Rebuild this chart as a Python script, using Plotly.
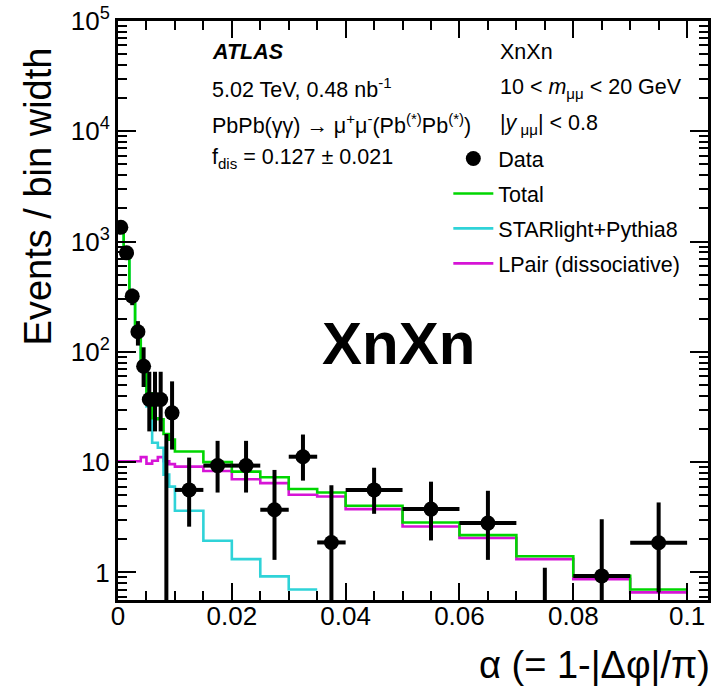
import plotly.graph_objects as go

# ---------------- data ----------------
bin_edges = [0.000, 0.001, 0.002, 0.003, 0.004, 0.005, 0.006, 0.007, 0.008, 0.009, 0.010,
             0.015, 0.020, 0.025, 0.030, 0.035, 0.040,
             0.050, 0.060, 0.070, 0.080, 0.090, 0.100]

data_vals = [1350, 790, 320, 152, 74, 37, 37, 37, 0, 28,
             5.6, 9.3, 9.3, 3.7, 11.2, 1.87,
             5.6, 3.75, 2.8, 0, 0.93, 1.86]
data_err_up = [110, 85, 55, 38, 36, 29, 29, 29, 18, 26,
               5.4, 6.3, 6.3, 4.8, 6.6, 4.3,
               3.3, 2.9, 2.7, 1.1, 2.1, 2.45]
data_err_dn = [110, 85, 55, 38, 26, 18, 18, 18, 0, 15,
               3.0, 4.0, 4.0, 2.4, 4.4, 1.55,
               2.2, 1.8, 1.5, 0, 0.77, 1.2]

total_vals = [1450, 720, 315, 150, 78, 42, 25, 24.5, 18, 16,
              12.5, 10.0, 8.2, 7.3, 5.7, 5.3,
              4.02, 2.84, 2.18, 1.40, 0.93, 0.70]
starlight_vals = [1440, 710, 305, 140, 67, 32, 15, 13.5, 7.7, 6.0,
                  3.62, 1.94, 1.32, 0.92, 0.70, 0.42,
                  0.27, 0.23, 0.13, 0.08, 0.06, 0.04]
lpair_vals = [10.2, 10.2, 10.2, 10.2, 11.1, 9.7, 10.3, 11.1, 10.2, 9.6,
              9.1, 8.3, 7.0, 6.45, 5.06, 4.88,
              3.75, 2.61, 2.05, 1.32, 0.87, 0.66]

y_tick_vals = [1, 10, 100, 1000, 10000, 100000]
y_tick_text = ["1", "10", "10<sup>2</sup>", "10<sup>3</sup>", "10<sup>4</sup>", "10<sup>5</sup>"]
x_tick_vals = [0, 0.02, 0.04, 0.06, 0.08, 0.1]
x_tick_text = ["0", "0.02", "0.04", "0.06", "0.08", "0.1"]

# ---------------- layout constants ----------------
W, H = 711, 691
L, T, B = 118, 21, 91
R = 0
Y_MIN_LOG, Y_MAX_LOG = -0.25, 5.0
X_MAX = (W - L) / 5720.0
y_floor = 10 ** Y_MIN_LOG

GREEN = "#00d600"
CYAN = "#2fd3d8"
MAGENTA = "#d614d6"
FONT = "Liberation Sans, Arial, Helvetica, sans-serif"

pw, ph = W - L - R, H - T - B


def px(X):
    return (X - L) / pw


def py(Y):
    return (H - B - Y) / ph


def step_path(edges, vals):
    xs, ys = [], []
    prev_ok = False
    for lo, hi, v in zip(edges[:-1], edges[1:], vals):
        if v is None or v < y_floor:
            if prev_ok:
                xs.append(None); ys.append(None)
            prev_ok = False
            continue
        xs += [lo, hi]
        ys += [v, v]
        prev_ok = True
    return xs, ys


centers = [(lo + hi) / 2 for lo, hi in zip(bin_edges[:-1], bin_edges[1:])]
halfw = [(hi - lo) / 2 for lo, hi in zip(bin_edges[:-1], bin_edges[1:])]

fig = go.Figure()

# plotted values: empty bins are drawn from below the axis
plot_y = [v if v > 0 else 0.01 for v in data_vals]
plot_up = [(v + u) - p for v, u, p in zip(data_vals, data_err_up, plot_y)]
plot_dn = [d if v > 0 else 0 for v, d in zip(data_vals, data_err_dn)]

for name, vals, col, rank in [("LPair (dissociative)", lpair_vals, MAGENTA, 4),
                              ("STARlight+Pythia8", starlight_vals, CYAN, 3),
                              ("Total", total_vals, GREEN, 2)]:
    xs, ys = step_path(bin_edges, vals)
    fig.add_trace(go.Scatter(x=xs, y=ys, mode="lines", name=name,
                             line=dict(color=col, width=2.6),
                             legendgroup=name, legendrank=rank))

fig.add_trace(go.Scatter(
    x=centers, y=plot_y, mode="markers", name="Data",
    marker=dict(color="black", size=15),
    error_y=dict(type="data", symmetric=False, array=plot_up, arrayminus=plot_dn,
                 color="black", thickness=4, width=0),
    error_x=dict(type="data", array=halfw, color="black", thickness=4, width=0),
    legendgroup="Data", legendrank=1))

axis_common = dict(showline=True, linewidth=3, linecolor="black", mirror="ticks",
                   ticks="inside", tickcolor="black", tickwidth=2,
                   showgrid=False, zeroline=False,
                   tickfont=dict(family=FONT, size=26, color="black"))

fig.update_xaxes(range=[0, X_MAX], tickvals=x_tick_vals, ticktext=x_tick_text,
                 ticklen=17, ticklabelstandoff=-9,
                 minor=dict(dtick=0.005, ticks="inside", ticklen=9, tickwidth=2,
                            tickcolor="black", showgrid=False),
                 **axis_common)
fig.update_yaxes(type="log", range=[Y_MIN_LOG, Y_MAX_LOG],
                 tickvals=y_tick_vals, ticktext=y_tick_text, ticklen=18,
                 minor=dict(dtick="D1", ticks="inside", ticklen=9, tickwidth=2,
                            tickcolor="black", showgrid=False),
                 **axis_common)

ann = []


def text(X, Y, s, size=21.5, xanchor="left", **kw):
    ann.append(dict(x=px(X), y=py(Y), xref="paper", yref="paper", text=s,
                    showarrow=False, xanchor=xanchor, yanchor="middle",
                    font=dict(family=FONT, size=size, color="black"), **kw))


text(210, 52, "<b><i>ATLAS</i></b>")
text(210, 88, "5.02 TeV, 0.48 nb<sup>-1</sup>")
text(210, 124, "PbPb(γγ) → μ<sup>+</sup>μ<sup>-</sup>(Pb<sup>(*)</sup>Pb<sup>(*)</sup>)")
text(210, 158, "f<sub>dis</sub> = 0.127 ± 0.021")
text(500, 52, "XnXn")
text(500, 88, "10 < <i>m</i><sub>μμ</sub> < 20 GeV")
text(500, 124, "|<i>y</i><sub> μμ</sub>| < 0.8")
text(400, 343, "<b>XnXn</b>", size=60, xanchor="center")

# axis titles
ann.append(dict(x=px(715), y=py(665), xref="paper", yref="paper",
                text="α (= 1-|Δφ|/π)", showarrow=False, xanchor="right",
                yanchor="middle", font=dict(family=FONT, size=38, color="black")))
ann.append(dict(x=px(38), y=py(45), xref="paper", yref="paper",
                text="Events / bin width", showarrow=False, textangle=-90,
                xanchor="center", yanchor="top",
                font=dict(family=FONT, size=38, color="black")))

fig.update_layout(
    width=W, height=H,
    margin=dict(l=L, r=R, t=T, b=B, pad=0),
    paper_bgcolor="white", plot_bgcolor="white",
    annotations=ann,
    showlegend=True,
    legend=dict(x=px(450), y=py(138), xanchor="left", yanchor="top",
                bgcolor="rgba(0,0,0,0)", borderwidth=0,
                font=dict(family=FONT, size=21.5, color="black"),
                tracegroupgap=4, itemwidth=40, traceorder="grouped"),
)

fig.write_html("out.html")
